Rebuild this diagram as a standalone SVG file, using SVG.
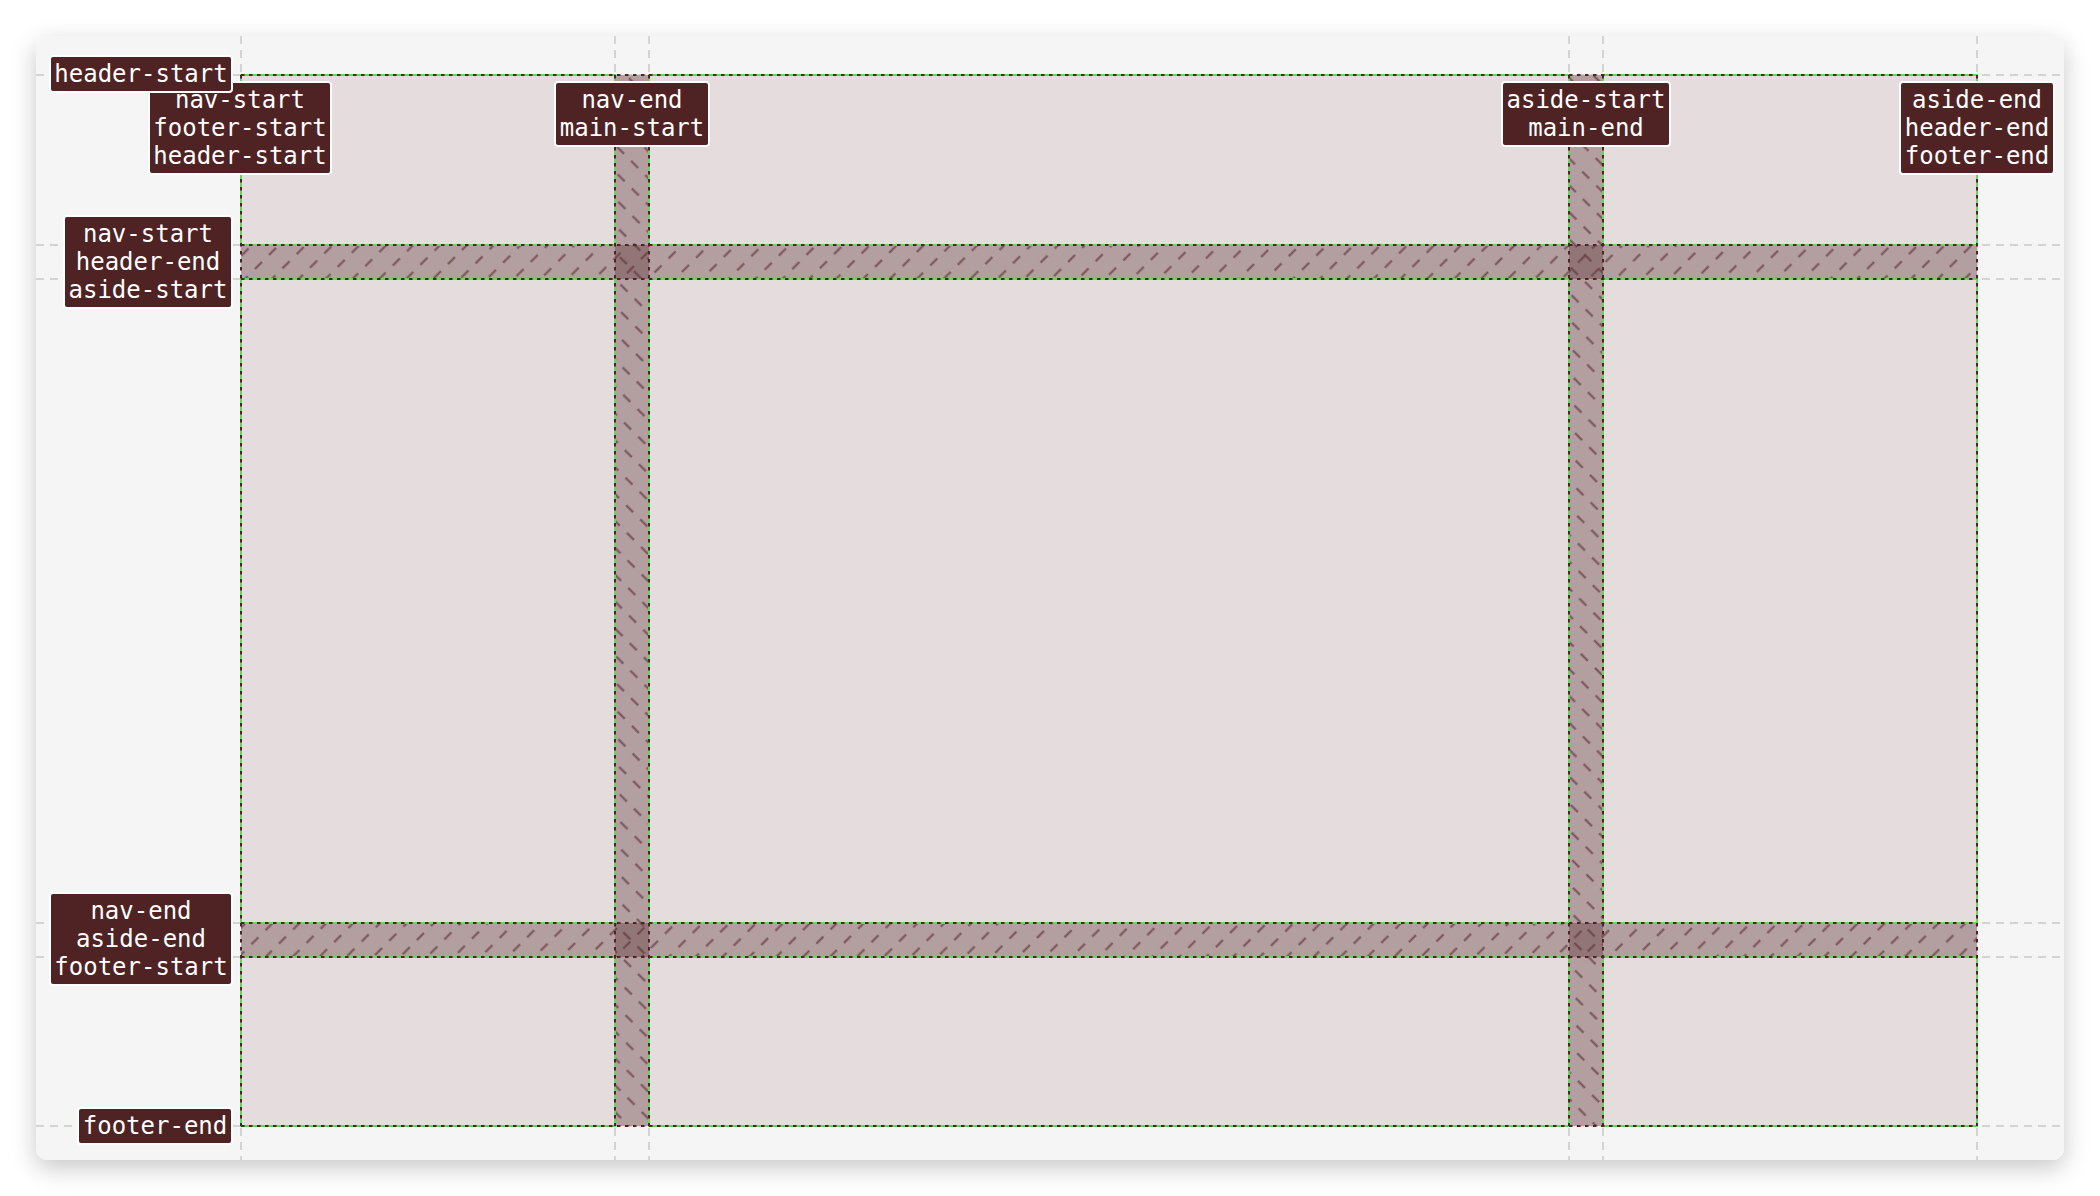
<svg xmlns="http://www.w3.org/2000/svg" width="2100" height="1196" viewBox="0 0 2100 1196">
<style>
.guide{stroke:#c9c9c9;stroke-width:1.5;stroke-dasharray:8 6;fill:none}
.gap{fill:#4f2323;fill-opacity:0.33}
.cell{fill:none;stroke:#5ade55;stroke-width:2}
.gl{stroke:#4f2323;stroke-width:2;stroke-dasharray:3.5 4.5;fill:none}
.lbl rect{fill:#4f2323;stroke:#ffffff;stroke-width:2}
.lbl text{fill:#ffffff;font-family:"DejaVu Sans Mono","Liberation Mono",monospace;font-size:24px;text-anchor:middle}
</style>
<defs>
<filter id="sh" x="-5%" y="-5%" width="110%" height="115%">
<feDropShadow dx="0" dy="8" stdDeviation="12" flood-color="#000" flood-opacity="0.22"/>
</filter>
<pattern id="hr" patternUnits="userSpaceOnUse" width="19" height="20" patternTransform="rotate(45)">
<line x1="9.5" y1="0" x2="9.5" y2="10" stroke="#5a2f32" stroke-width="2" stroke-opacity="0.7"/>
</pattern>
<pattern id="hc" patternUnits="userSpaceOnUse" width="19" height="20" patternTransform="rotate(-45)">
<line x1="9.5" y1="0" x2="9.5" y2="10" stroke="#5a2f32" stroke-width="2" stroke-opacity="0.7"/>
</pattern>
</defs>
<rect width="2100" height="1196" fill="#ffffff"/>
<rect id="panel" x="36" y="36" width="2028" height="1124" rx="12" fill="#f5f5f5" filter="url(#sh)"/>
<g id="guides">
<line class="guide" x1="241" y1="36" x2="241" y2="1160"/>
<line class="guide" x1="615" y1="36" x2="615" y2="1160"/>
<line class="guide" x1="649" y1="36" x2="649" y2="1160"/>
<line class="guide" x1="1569" y1="36" x2="1569" y2="1160"/>
<line class="guide" x1="1603" y1="36" x2="1603" y2="1160"/>
<line class="guide" x1="1977" y1="36" x2="1977" y2="1160"/>
<line class="guide" x1="36" y1="75" x2="2064" y2="75"/>
<line class="guide" x1="36" y1="245" x2="2064" y2="245"/>
<line class="guide" x1="36" y1="279" x2="2064" y2="279"/>
<line class="guide" x1="36" y1="923" x2="2064" y2="923"/>
<line class="guide" x1="36" y1="957" x2="2064" y2="957"/>
<line class="guide" x1="36" y1="1126" x2="2064" y2="1126"/>
</g>
<g id="grid">
<rect x="241" y="75" width="1736" height="1051" fill="#e4dcdd"/>
<rect class="gap" x="241" y="245" width="1736" height="34"/>
<rect class="gap" x="241" y="923" width="1736" height="34"/>
<rect class="gap" x="615" y="75" width="34" height="1051"/>
<rect class="gap" x="1569" y="75" width="34" height="1051"/>
<rect x="241" y="245" width="1736" height="34" fill="url(#hr)"/>
<rect x="241" y="923" width="1736" height="34" fill="url(#hr)"/>
<rect x="615" y="75" width="34" height="1051" fill="url(#hc)"/>
<rect x="1569" y="75" width="34" height="1051" fill="url(#hc)"/>
</g>
<g id="cells">
<rect class="cell" x="241" y="75" width="374" height="170"/>
<rect class="cell" x="649" y="75" width="920" height="170"/>
<rect class="cell" x="1603" y="75" width="374" height="170"/>
<rect class="cell" x="241" y="279" width="374" height="644"/>
<rect class="cell" x="649" y="279" width="920" height="644"/>
<rect class="cell" x="1603" y="279" width="374" height="644"/>
<rect class="cell" x="241" y="957" width="374" height="169"/>
<rect class="cell" x="649" y="957" width="920" height="169"/>
<rect class="cell" x="1603" y="957" width="374" height="169"/>
</g>
<g id="connectors">
<line class="gl" x1="241" y1="75" x2="241" y2="1126"/>
<line class="gl" x1="615" y1="75" x2="615" y2="1126"/>
<line class="gl" x1="649" y1="75" x2="649" y2="1126"/>
<line class="gl" x1="1569" y1="75" x2="1569" y2="1126"/>
<line class="gl" x1="1603" y1="75" x2="1603" y2="1126"/>
<line class="gl" x1="1977" y1="75" x2="1977" y2="1126"/>
<line class="gl" x1="241" y1="75" x2="1977" y2="75"/>
<line class="gl" x1="241" y1="245" x2="1977" y2="245"/>
<line class="gl" x1="241" y1="279" x2="1977" y2="279"/>
<line class="gl" x1="241" y1="923" x2="1977" y2="923"/>
<line class="gl" x1="241" y1="957" x2="1977" y2="957"/>
<line class="gl" x1="241" y1="1126" x2="1977" y2="1126"/>
</g>
<g id="label-col1" class="lbl">
<rect x="149" y="82" width="182" height="92" rx="3"/>
<text x="240" y="108">nav-start</text>
<text x="240" y="136">footer-start</text>
<text x="240" y="164">header-start</text>
</g>
<g id="label-row1" class="lbl">
<rect x="50" y="56" width="182" height="36" rx="3"/>
<text x="141" y="82">header-start</text>
</g>
<g id="label-col2" class="lbl">
<rect x="555" y="82" width="154" height="64" rx="3"/>
<text x="632" y="108">nav-end</text>
<text x="632" y="136">main-start</text>
</g>
<g id="label-col3" class="lbl">
<rect x="1502" y="82" width="168" height="64" rx="3"/>
<text x="1586" y="108">aside-start</text>
<text x="1586" y="136">main-end</text>
</g>
<g id="label-col4" class="lbl">
<rect x="1900" y="82" width="154" height="92" rx="3"/>
<text x="1977" y="108">aside-end</text>
<text x="1977" y="136">header-end</text>
<text x="1977" y="164">footer-end</text>
</g>
<g id="label-row2" class="lbl">
<rect x="64" y="216" width="168" height="92" rx="3"/>
<text x="148" y="242">nav-start</text>
<text x="148" y="270">header-end</text>
<text x="148" y="298">aside-start</text>
</g>
<g id="label-row3" class="lbl">
<rect x="50" y="893" width="182" height="92" rx="3"/>
<text x="141" y="919">nav-end</text>
<text x="141" y="947">aside-end</text>
<text x="141" y="975">footer-start</text>
</g>
<g id="label-row4" class="lbl">
<rect x="78" y="1108" width="154" height="36" rx="3"/>
<text x="155" y="1134">footer-end</text>
</g>
</svg>
